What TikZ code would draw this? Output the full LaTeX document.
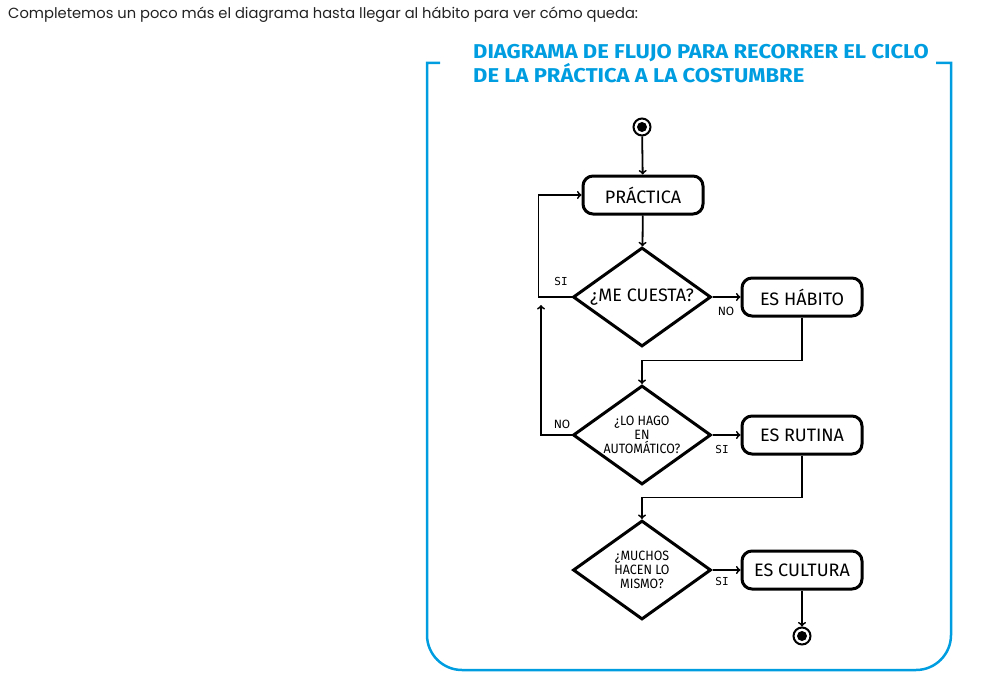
\documentclass[tikz,border=0pt]{standalone}
\usepackage{fontspec}
\usepackage{xcolor}
\usepackage{tikz}
\usetikzlibrary{shapes.geometric}

\setmainfont{Fira Sans}
\newfontfamily\frasefont{Poppins}
\newfontfamily\titulofont{Fira Sans}[FakeStretch=1.1]
\newfontfamily\condfont{Fira Sans}[FakeStretch=0.92]
\newfontfamily\monofont{DejaVu Sans Mono}

\definecolor{cicloazul}{RGB}{0,158,224}
\definecolor{frasegris}{RGB}{34,34,34}

\tikzset{
  paso/.style={draw, line width=3pt, rounded corners=10pt, minimum width=120pt,
    minimum height=38pt, font=\fontsize{18}{20}\selectfont},
  pregunta/.style={draw, diamond, aspect=1.4, line width=3pt, inner sep=0pt,
    minimum width=138pt, minimum height=99pt, align=center},
  flecha/.style={->, line width=1.8pt},
  etiqueta/.style={inner sep=0pt, font=\fontsize{12}{12}\selectfont},
  etiquetasi/.style={inner sep=0pt, font=\monofont\fontsize{11}{12}\selectfont},
  punto/.style={draw, circle, line width=2pt, minimum size=17pt, inner sep=0pt},
  marco/.style={draw=cicloazul, line width=2.5pt},
}

\begin{document}
\begin{tikzpicture}[x=1pt, y=-1pt]

\useasboundingbox (0,0) rectangle (987,677);

% texto de arriba
\node[anchor=base west, inner sep=0pt, text=frasegris, font=\frasefont\fontsize{14.7}{16}\selectfont]
  (frase) at (8,19) {Completemos un poco más el diagrama hasta llegar al hábito para ver cómo queda:};

% marco azul
\draw[marco] (440,63) -- (427,63) -- (427,635) arc[start angle=180, end angle=90, radius=35]
  -- (916,670) arc[start angle=90, end angle=0, radius=35] -- (951,63) -- (936,63);

\node[anchor=base west, inner sep=0pt, text=cicloazul, font=\titulofont\bfseries\fontsize{20}{23}\selectfont]
  (titulo1) at (473,59) {DIAGRAMA DE FLUJO PARA RECORRER EL CICLO};
\node[anchor=base west, inner sep=0pt, text=cicloazul, font=\titulofont\bfseries\fontsize{20}{23}\selectfont]
  (titulo2) at (473,82) {DE LA PRÁCTICA A LA COSTUMBRE};

% nodos
\node[punto] (ini) at (642,127) {};
\fill (ini.center) circle (5);

\node[paso] (prac) at (643,195) {PRÁCTICA};
\node[pregunta, font=\fontsize{18}{20}\selectfont] (q1) at (642,297) {¿ME CUESTA?};
\node[paso] (hab) at (802,297) {ES HÁBITO};

\node[pregunta, font=\condfont\fontsize{13.5}{14}\selectfont] (q2) at (642,435) {¿LO HAGO\\EN\\AUTOMÁTICO?};
\node[paso] (rut) at (802,435) {ES RUTINA};

\node[pregunta, font=\condfont\fontsize{13.5}{14}\selectfont] (q3) at (642,570) {¿MUCHOS\\HACEN LO\\MISMO?};
\node[paso] (cul) at (802,570) {ES CULTURA};

\node[punto] (fin) at (802,636) {};
\fill (fin.center) circle (5);

\coordinate (nofin) at (541,305);

% flechas
\draw[flecha] (ini) -- (prac);
\draw[flecha] (prac) -- (q1);
\draw[flecha] (q1.west) -- ++(-33,0) |- (prac.west);
\draw[flecha] (q1.east) -- (hab.west);
\draw[flecha] (hab.south) -- ++(0,43) -| (q2.north);
\draw[flecha] (q2.west) -| (nofin);
\draw[flecha] (q2.east) -- (rut.west);
\draw[flecha] (rut.south) -- ++(0,42) -| (q3.north);
\draw[flecha] (q3.east) -- (cul.west);
\draw[flecha] (cul) -- (fin);

% etiquetas
\node[etiquetasi] (si1) at (561,281) {SI};
\node[etiqueta] (no1) at (726,311) {NO};
\node[etiqueta] (no2) at (562,424) {NO};
\node[etiquetasi] (si2) at (722,449) {SI};
\node[etiquetasi] (si3) at (722,581) {SI};

\end{tikzpicture}
\end{document}
